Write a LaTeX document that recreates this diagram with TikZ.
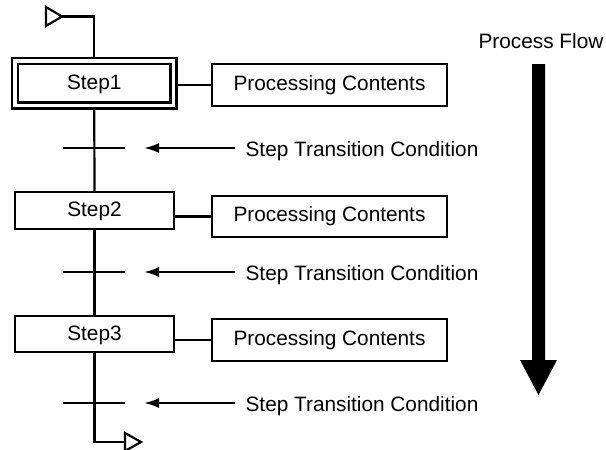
\documentclass[tikz,border=0pt]{standalone}
\usepackage{fontspec}
\setmainfont{Liberation Sans}
\usetikzlibrary{arrows.meta}
\begin{document}
\begin{tikzpicture}[x=1pt,y=-1pt,line width=2.2pt,
  every node/.style={font=\fontsize{20.8}{25}\selectfont},
  stepbox/.style={draw,rectangle,inner sep=0pt,text height=12pt,text depth=0pt,line width=2.4pt},
  procbox/.style={draw,rectangle,inner sep=0pt,minimum width=235pt,line width=2.4pt},
  condtext/.style={inner sep=0pt,anchor=base west},
  tarrow/.style={-{Latex[length=15pt,width=10pt]}}]
\useasboundingbox[fill=white] (0,0) rectangle (606,450);
% steps
\node[stepbox,double,double distance=3.3pt,outer sep=2.85pt,minimum width=158.5pt,minimum height=44.5pt] (s1) at (94.25,83.25) {Step1};
\node[stepbox,minimum width=159pt,minimum height=37pt] (s2) at (94.5,210.5) {Step2};
\node[stepbox,minimum width=159pt,minimum height=36pt] (s3) at (94.5,334) {Step3};
% processing boxes
\node[procbox,minimum height=42pt] (p1) at (329.5,85) {Processing Contents};
\node[procbox,minimum height=41pt] (p2) at (329.5,216.5) {Processing Contents};
\node[procbox,minimum height=42pt] (p3) at (329.5,340) {Processing Contents};
\foreach \i in {1,2,3}{\draw (p\i.west) -- (p\i.west -| s\i.east);}
% start
\coordinate (st) at (62,16.5);
\draw[line join=miter] (46,7) -- (st) -- (46,26) -- cycle;
\draw (st) -| (s1.north);
% vertical links
\draw (s1.south) -- (s2.north);
\draw (s2.south) -- (s3.north);
\coordinate (en) at (125,442);
\draw (s3.south) |- (en);
\draw[line join=miter] (125,433) -- (141,442) -- (125,451) -- cycle;
% transitions
\foreach \y/\n in {148/1,272/2,403/3}{
  \draw (63,\y) -- (125,\y);
  \coordinate (a\n) at (235,\y);
  \coordinate (b\n) at (144,\y);
  \draw[tarrow] (a\n) -- (b\n);
  \node[condtext] (c\n) at (244.5,\y+8.5) {Step Transition Condition};
}
% process flow
\node[inner sep=0pt,anchor=base west] (pf) at (477.5,48.3) {Process Flow};
\fill (532,64) -- (545,64) -- (545,360) -- (557,360) -- (538.5,395) -- (520,360) -- (532,360) -- cycle;
\end{tikzpicture}
\end{document}
